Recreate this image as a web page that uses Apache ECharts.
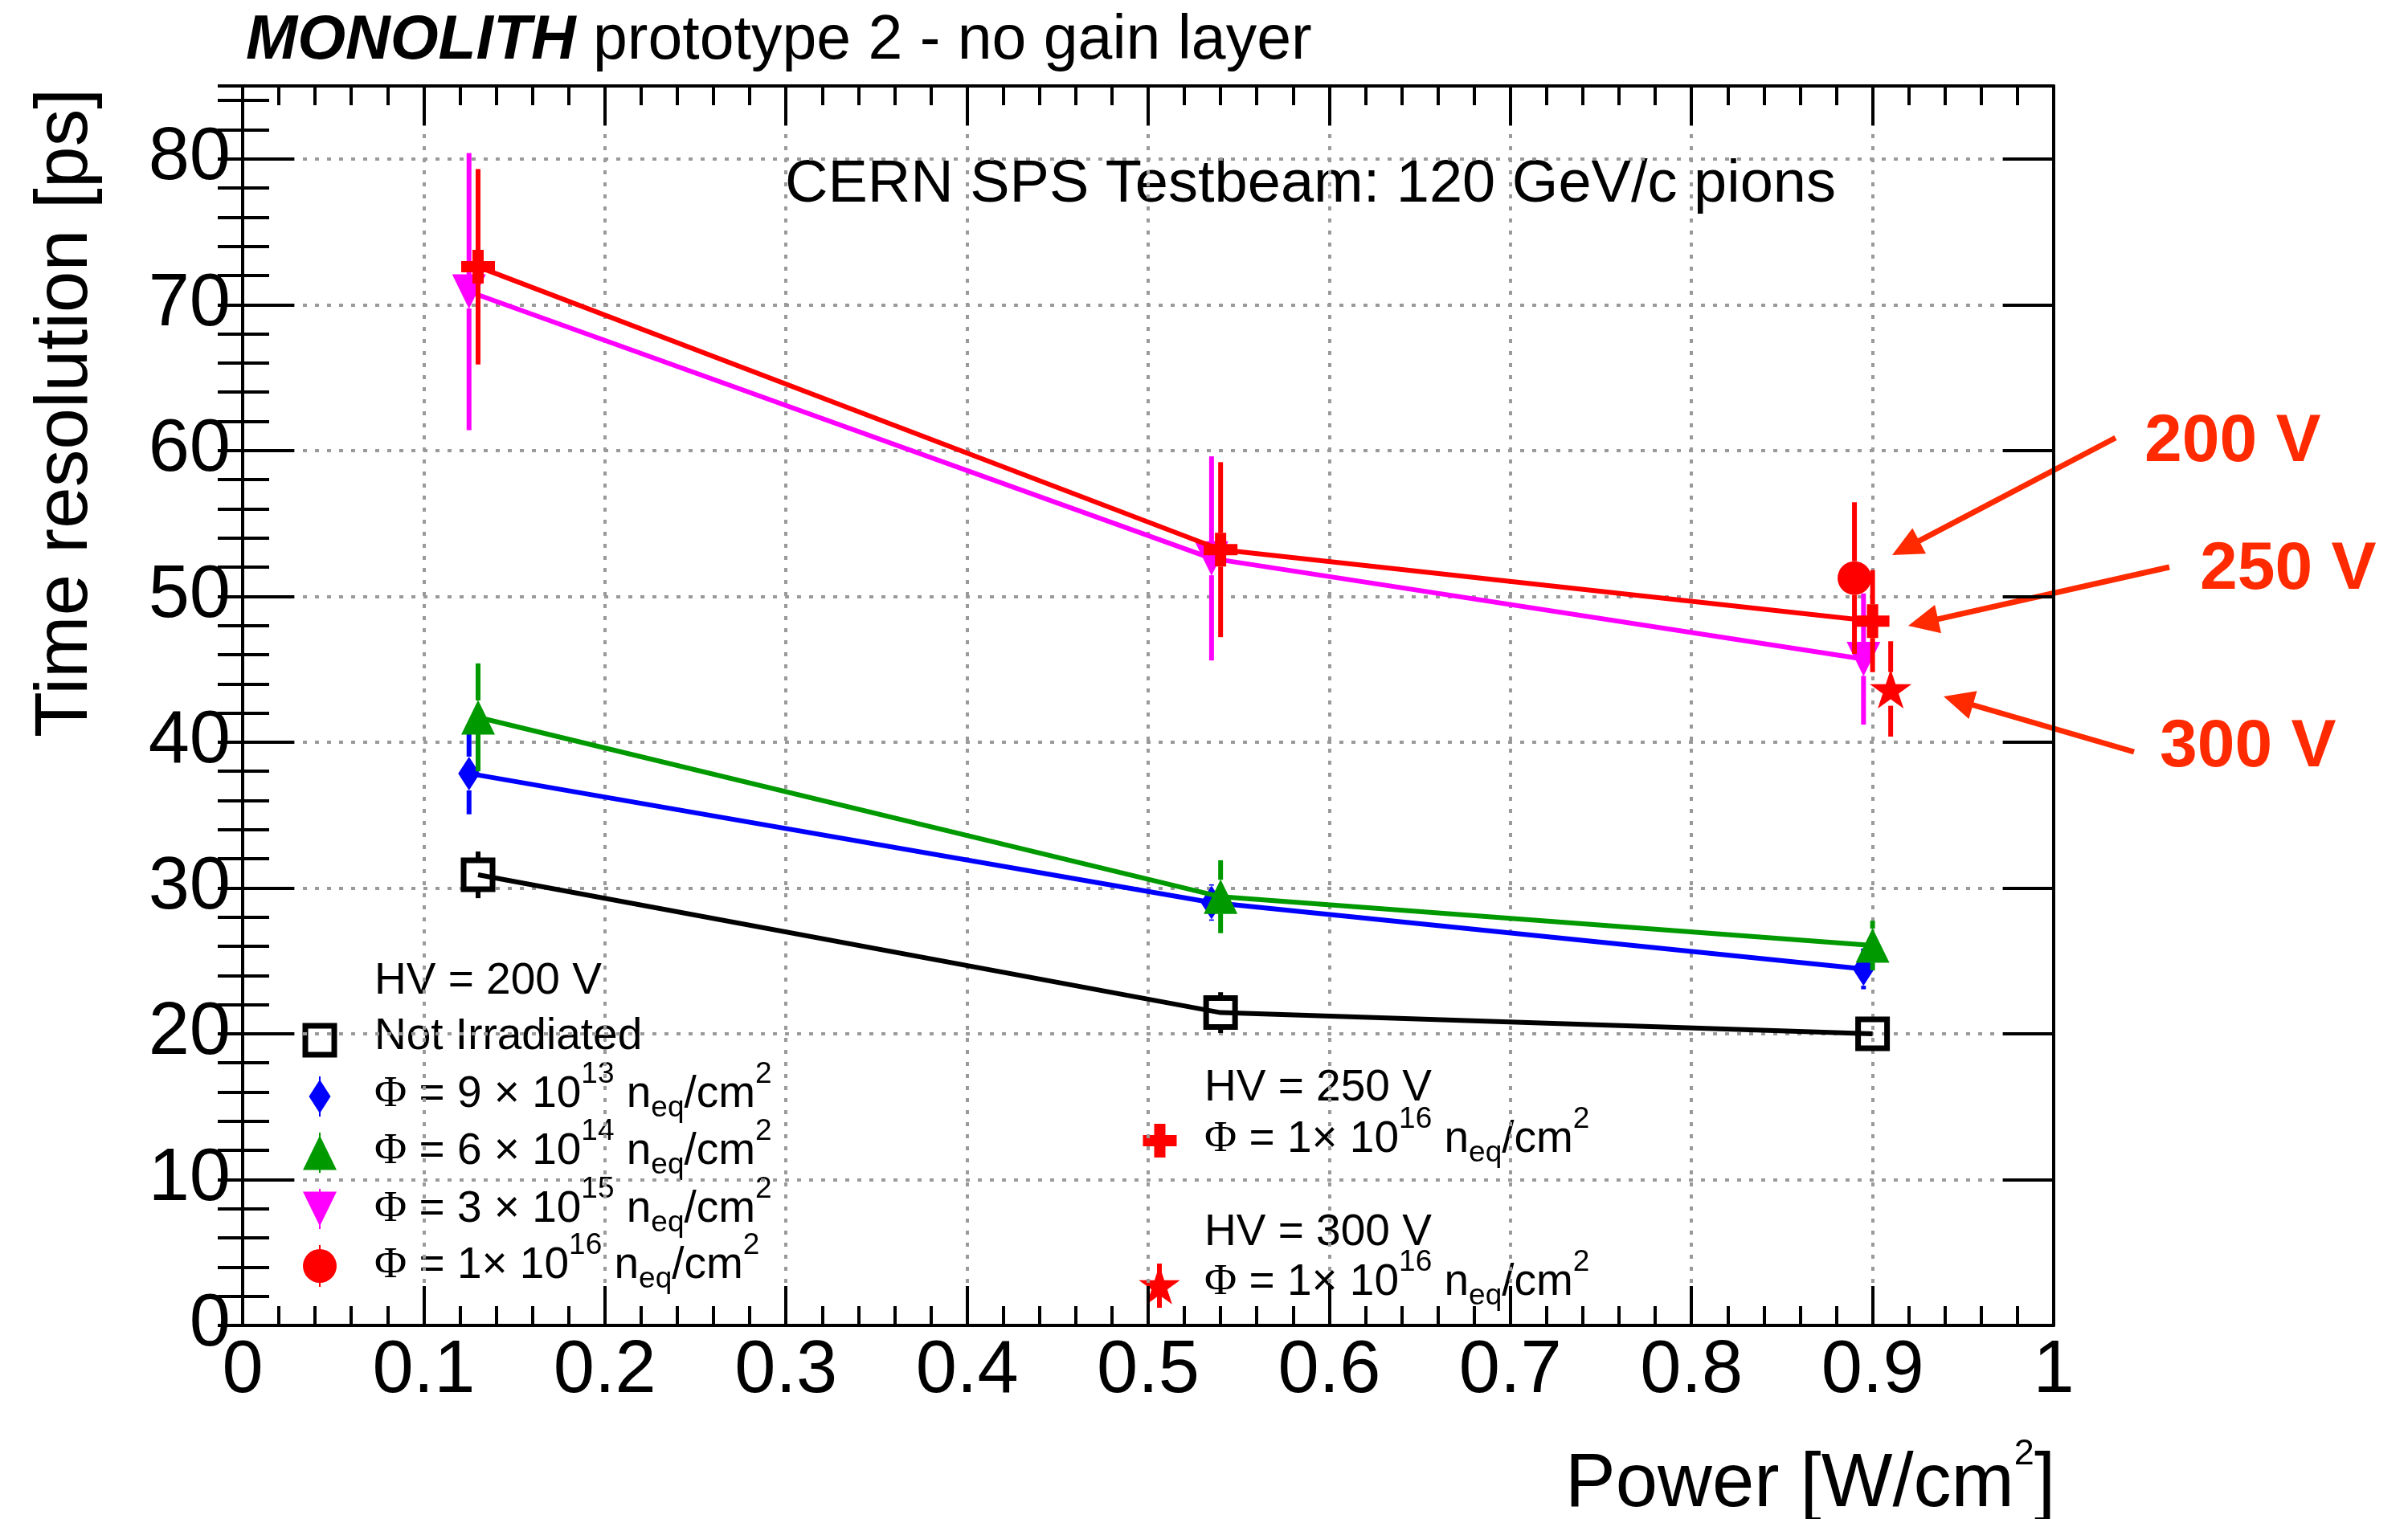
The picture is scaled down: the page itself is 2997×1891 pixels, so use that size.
<!DOCTYPE html>
<html>
<head>
<meta charset="utf-8">
<title>MONOLITH prototype 2 - time resolution vs power</title>
<script src="https://cdn.jsdelivr.net/npm/echarts@6/dist/echarts.min.js"></script>
<style>
  html, body { margin: 0; padding: 0; background: #fff; }
  #chart { width: 2997px; height: 1891px; }
</style>
</head>
<body>
<div id="chart"></div>
<script>
// Time resolution [ps] versus front-end power density [W/cm^2],
// one set of arrays per sensor fluence / bias voltage, with symmetric errors.
const notIrrPower = [0.13, 0.54, 0.90];
const notIrrRes   = [30.9, 21.45, 20.0];
const notIrrErr   = [1.6, 1.4, 0.8];

const phi9e13Power = [0.125, 0.535, 0.895];
const phi9e13Res   = [37.85, 29.0, 24.45];
const phi9e13Err   = [2.8, 1.25, 1.4];

const phi6e14Power = [0.13, 0.54, 0.90];
const phi6e14Res   = [41.7, 29.4, 26.05];
const phi6e14Err   = [3.7, 2.5, 1.7];

const phi3e15Power = [0.125, 0.535, 0.895];
const phi3e15Res   = [70.9, 52.6, 45.7];
const phi3e15Err   = [9.5, 7.0, 4.5];

const phi1e16Hv200Power = [0.89];
const phi1e16Hv200Res   = [51.25];
const phi1e16Hv200Err   = [5.2];

const phi1e16Hv250Power = [0.13, 0.54, 0.90];
const phi1e16Hv250Res   = [72.6, 53.2, 48.3];
const phi1e16Hv250Err   = [6.7, 6.0, 3.5];

const phi1e16Hv300Power = [0.91];
const phi1e16Hv300Res   = [43.65];
const phi1e16Hv300Err   = [3.27];

const FONT = 'Liberation Sans';
const SERIF = 'Liberation Serif';
const RED = '#ff0000';
const NOTE = '#ff2a00';
const LEG_FS = 55;

const CROSS_PATH = 'path://M-1,-3L1,-3L1,-1L3,-1L3,1L1,1L1,3L-1,3L-1,1L-3,1L-3,-1L-1,-1Z';
const STAR_PATH = 'path://M0,-1L0.2245,-0.309L0.9511,-0.309L0.3633,0.118L0.5878,0.809L0,0.382L-0.5878,0.809L-0.3633,0.118L-0.9511,-0.309L-0.2245,-0.309Z';

// error bars drawn as vertical segments that leave a gap around the marker
function errorSeries(name, xs, ys, es, color, z) {
  const gap = 21;
  return {
    type: 'custom', name: name + ' errors', z: z, silent: true,
    coordinateSystem: 'cartesian2d', xAxisIndex: 0, yAxisIndex: 0,
    data: xs.map((x, i) => [x, ys[i], es[i]]),
    encode: { x: 0, y: 1 },
    renderItem: function (params, api) {
      const x = api.value(0), y = api.value(1), e = api.value(2);
      const c = api.coord([x, y]);
      const top = api.coord([x, y + e]);
      const bot = api.coord([x, y - e]);
      const st = { stroke: color, lineWidth: 6, lineCap: 'butt' };
      const children = [];
      if (c[1] - gap > top[1]) {
        children.push({ type: 'line', shape: { x1: c[0], y1: top[1], x2: c[0], y2: c[1] - gap }, style: st });
      }
      if (bot[1] > c[1] + gap) {
        children.push({ type: 'line', shape: { x1: c[0], y1: c[1] + gap, x2: c[0], y2: bot[1] }, style: st });
      }
      return { type: 'group', children: children };
    }
  };
}

function lineSeries(name, xs, ys, color, z, sym) {
  return Object.assign({
    type: 'line', name: name, z: z, silent: true,
    xAxisIndex: 0, yAxisIndex: 0,
    data: xs.map((x, i) => [x, ys[i]]),
    showSymbol: true, showAllSymbol: true, clip: false,
    lineStyle: { color: color, width: 6 },
    itemStyle: { color: color, borderWidth: 0 },
    emphasis: { disabled: true }
  }, sym);
}

const series = [
  errorSeries('Not Irradiated', notIrrPower, notIrrRes, notIrrErr, '#000', 2),
  lineSeries('Not Irradiated', notIrrPower, notIrrRes, '#000', 2, {
    symbol: 'rect', symbolSize: 36,
    itemStyle: { color: 'rgba(0,0,0,0)', borderColor: '#000', borderWidth: 7 }
  }),
  errorSeries('9e13', phi9e13Power, phi9e13Res, phi9e13Err, '#0000ff', 3),
  lineSeries('9e13', phi9e13Power, phi9e13Res, '#0000ff', 3, { symbol: 'diamond', symbolSize: [27, 42] }),
  errorSeries('6e14', phi6e14Power, phi6e14Res, phi6e14Err, '#009900', 4),
  lineSeries('6e14', phi6e14Power, phi6e14Res, '#009900', 4, { symbol: 'triangle', symbolSize: [42, 43] }),
  errorSeries('3e15', phi3e15Power, phi3e15Res, phi3e15Err, '#ff00ff', 5),
  lineSeries('3e15', phi3e15Power, phi3e15Res, '#ff00ff', 5, { symbol: 'triangle', symbolSize: [42, 43], symbolRotate: 180 }),
  errorSeries('1e16 200V', phi1e16Hv200Power, phi1e16Hv200Res, phi1e16Hv200Err, RED, 6),
  lineSeries('1e16 200V', phi1e16Hv200Power, phi1e16Hv200Res, RED, 6, { symbol: 'circle', symbolSize: 42 }),
  errorSeries('1e16 250V', phi1e16Hv250Power, phi1e16Hv250Res, phi1e16Hv250Err, RED, 7),
  lineSeries('1e16 250V', phi1e16Hv250Power, phi1e16Hv250Res, RED, 7, { symbol: CROSS_PATH, symbolSize: 42 }),
  errorSeries('1e16 300V', phi1e16Hv300Power, phi1e16Hv300Res, phi1e16Hv300Err, RED, 8),
  lineSeries('1e16 300V', phi1e16Hv300Power, phi1e16Hv300Res, RED, 8, { symbol: STAR_PATH, symbolSize: [52, 49] })
];

const frameLine = { show: true, onZero: false, lineStyle: { color: '#000', width: 4 } };
const tickStyle = { color: '#000', width: 4 };
const gridDots = { show: true, lineStyle: { color: '#9a9a9a', width: 4, type: [5, 10] } };
const labelStyle = { fontFamily: FONT, fontSize: 92, color: '#000' };

const xAxes = [
  {
    type: 'value', min: 0, max: 1, interval: 0.1, position: 'bottom',
    axisLine: frameLine,
    axisTick: { show: true, inside: true, length: 49, lineStyle: tickStyle },
    minorTick: { show: true, splitNumber: 5, length: 24, lineStyle: tickStyle },
    axisLabel: Object.assign({ show: true, margin: 12 }, labelStyle),
    splitLine: gridDots, minorSplitLine: { show: false }
  },
  {
    type: 'value', min: 0, max: 1, interval: 0.1, position: 'top',
    axisLine: frameLine,
    axisTick: { show: true, inside: true, length: 49, lineStyle: tickStyle },
    minorTick: { show: true, splitNumber: 5, length: 24, lineStyle: tickStyle },
    axisLabel: { show: false }, splitLine: { show: false }
  }
];

function yAxisDef(position, interval, tickLen, withLabels, withGrid, withLine) {
  return {
    type: 'value', min: 0, max: 85, interval: interval, position: position,
    axisLine: withLine ? frameLine : { show: false },
    axisTick: { show: true, inside: true, length: tickLen, lineStyle: tickStyle },
    minorTick: { show: false },
    axisLabel: withLabels ? Object.assign({ show: true, margin: 15, showMaxLabel: false }, labelStyle) : { show: false },
    splitLine: withGrid ? gridDots : { show: false }
  };
}

const yAxes = [
  yAxisDef('left', 10, 64, true, true, true),
  yAxisDef('left', 2, 33, false, false, false),
  yAxisDef('right', 10, 63, false, false, true),
  yAxisDef('right', 2, 31, false, false, false)
];

// ---- legend and annotation graphics ----
const legRich = {
  phi: { fontFamily: SERIF, fontSize: LEG_FS, lineHeight: 88 },
  m:   { fontFamily: FONT, fontSize: LEG_FS, lineHeight: 88 },
  sup: { fontFamily: FONT, fontSize: 37, height: 37, verticalAlign: 'top' },
  sub: { fontFamily: FONT, fontSize: 37, height: 54, verticalAlign: 'bottom' }
};

function fluenceText(mantissa, exponent) {
  return '{phi|\u03A6}{m| = ' + mantissa + '\u00D7 10}{sup|' + exponent + '}{m| n}{sub|eq}{m|/cm}{sup|2}';
}

function richText(x, y, text) {
  return {
    type: 'text', x: x, y: y, silent: true,
    style: { text: text, rich: legRich, fill: '#000', align: 'left', verticalAlign: 'middle',
             fontFamily: FONT, fontSize: LEG_FS }
  };
}

function plainText(x, y, text, size, extra) {
  return {
    type: 'text', x: x, y: y, silent: true,
    style: Object.assign({ text: text, fill: '#000', align: 'left', verticalAlign: 'middle',
                           fontFamily: FONT, fontSize: size }, extra || {})
  };
}

function poly(points, color) {
  return { type: 'polygon', silent: true, shape: { points: points }, style: { fill: color } };
}
function vbar(x, y1, y2, color, w) {
  return { type: 'line', silent: true, shape: { x1: x, y1: y1, x2: x, y2: y2 }, style: { stroke: color, lineWidth: w } };
}
function starPoints(cx, cy, R) {
  const pts = [];
  for (let k = 0; k < 10; k++) {
    const r = k % 2 === 0 ? R : R * 0.382;
    const a = (-90 + 36 * k) * Math.PI / 180;
    pts.push([cx + r * Math.cos(a), cy + r * Math.sin(a)]);
  }
  return pts;
}
function crossPoints(cx, cy, s) {
  const a = s / 6, b = s / 2;
  return [[cx - a, cy - b], [cx + a, cy - b], [cx + a, cy - a], [cx + b, cy - a], [cx + b, cy + a],
          [cx + a, cy + a], [cx + a, cy + b], [cx - a, cy + b], [cx - a, cy + a], [cx - b, cy + a],
          [cx - b, cy - a], [cx - a, cy - a]];
}
function arrow(x1, y1, x2, y2) {
  const dx = x2 - x1, dy = y2 - y1, len = Math.hypot(dx, dy);
  const ux = dx / len, uy = dy / len;
  const headLen = 38, headHalf = 18;
  const bx = x2 - ux * headLen, by = y2 - uy * headLen;
  return [
    { type: 'line', silent: true, shape: { x1: x1, y1: y1, x2: bx + ux * 4, y2: by + uy * 4 },
      style: { stroke: NOTE, lineWidth: 7 } },
    poly([[x2, y2], [bx - uy * headHalf, by + ux * headHalf], [bx + uy * headHalf, by - ux * headHalf]], NOTE)
  ];
}

const LX = 398, TX = 466;
const graphics = [
  // title
  {
    type: 'text', x: 306, y: 52, silent: true,
    style: {
      text: '{b|MONOLITH}{r| prototype 2 - no gain layer}', fill: '#000', align: 'left', verticalAlign: 'middle',
      rich: {
        b: { fontFamily: FONT, fontSize: 77, fontWeight: 'bold', fontStyle: 'italic' },
        r: { fontFamily: FONT, fontSize: 77 }
      }
    }
  },
  plainText(977, 231, 'CERN SPS Testbeam: 120 GeV/c pions', 74),
  // axis titles
  {
    type: 'text', x: 82, y: 110, rotation: Math.PI / 2, silent: true,
    style: { text: 'Time resolution [ps]', fill: '#000', align: 'right', verticalAlign: 'middle',
             fontFamily: FONT, fontSize: 93 }
  },
  {
    type: 'text', x: 2558, y: 1849, silent: true,
    style: {
      text: '{a|Power [W/cm}{s|2}{a|]}', fill: '#000', align: 'right', verticalAlign: 'middle',
      rich: {
        a: { fontFamily: FONT, fontSize: 94, lineHeight: 122 },
        s: { fontFamily: FONT, fontSize: 45, height: 46, verticalAlign: 'top' }
      }
    }
  },

  // legend, HV = 200 V block
  plainText(TX, 1222, 'HV = 200 V', LEG_FS),
  { type: 'rect', silent: true, shape: { x: LX - 18, y: 1277, width: 36, height: 36 },
    style: { fill: 'none', stroke: '#000', lineWidth: 7 } },
  plainText(TX, 1291, 'Not Irradiated', LEG_FS),
  vbar(LX, 1340, 1390, '#0000ff', 2),
  poly([[LX, 1344], [LX + 13.5, 1365], [LX, 1386], [LX - 13.5, 1365]], '#0000ff'),
  richText(TX, 1363, fluenceText('9 ', '13')),
  vbar(LX, 1410, 1460, '#009900', 2),
  poly([[LX, 1413.5], [LX + 21, 1456.5], [LX - 21, 1456.5]], '#009900'),
  richText(TX, 1434, fluenceText('6 ', '14')),
  vbar(LX, 1480, 1530, '#ff00ff', 2),
  poly([[LX - 21, 1483.5], [LX + 21, 1483.5], [LX, 1526.5]], '#ff00ff'),
  richText(TX, 1506, fluenceText('3 ', '15')),
  vbar(LX, 1550, 1602, RED, 2),
  { type: 'circle', silent: true, shape: { cx: LX, cy: 1576, r: 21 }, style: { fill: RED } },
  richText(TX, 1576, fluenceText('1', '16')),

  // legend, HV = 250 V and HV = 300 V
  plainText(1499, 1355, 'HV = 250 V', LEG_FS),
  poly(crossPoints(1443.5, 1420, 42), RED),
  richText(1499, 1419, fluenceText('1', '16')),
  plainText(1499, 1535, 'HV = 300 V', LEG_FS),
  vbar(1443, 1573, 1628, RED, 6),
  poly(starPoints(1443, 1602, 27), RED),
  richText(1499, 1597, fluenceText('1', '16')),

  // bias voltage annotations
  plainText(2669, 551, '200 V', 84, { fontWeight: 'bold', fill: NOTE }),
  plainText(2738, 710, '250 V', 84, { fontWeight: 'bold', fill: NOTE }),
  plainText(2688, 931, '300 V', 84, { fontWeight: 'bold', fill: NOTE })
].concat(
  arrow(2633, 545, 2355, 691),
  arrow(2700, 706, 2375, 779),
  arrow(2656, 936, 2419, 867)
);

const chart = echarts.init(document.getElementById('chart'), null, { renderer: 'canvas' });
chart.setOption({
  animation: false,
  backgroundColor: '#ffffff',
  grid: { left: 302, top: 107, width: 2254, height: 1543, containLabel: false, outerBoundsMode: 'none' },
  xAxis: xAxes,
  yAxis: yAxes,
  series: series,
  graphic: graphics
});
</script>
</body>
</html>
